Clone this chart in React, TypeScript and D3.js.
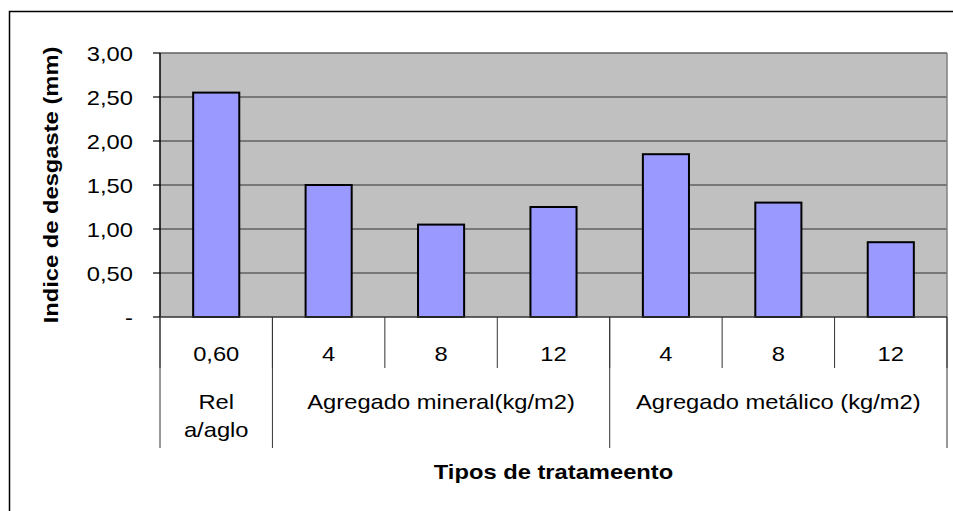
import React from "react";
import * as d3 from "d3";

const categories = ["0,60", "4", "8", "12", "4", "8", "12"];
const values = [2.55, 1.5, 1.05, 1.25, 1.85, 1.3, 0.85];
const groupLabels = [["Rel", "a/aglo"], ["Agregado mineral(kg/m2)"], ["Agregado metálico (kg/m2)"]];
const groupSizes = [1, 3, 3];
const yTicks = [0, 0.5, 1, 1.5, 2, 2.5, 3];
const yTitle = "Indice de desgaste (mm)";
const xTitle = "Tipos de tratameento";

const W = 953;
const H = 511;
const L = 160, R = 947, T = 53, B = 317;
const FONT = "'Liberation Sans', Arial, sans-serif";
const FS = 21;
const SX = 1.13;

const fmt = (d: number) => (d === 0 ? "-" : d.toFixed(2).replace(".", ","));

function T2({ x, y, text, anchor = "middle", bold = false, rotate = 0, size = FS, sx = SX }: any) {
  return (
    <text
      transform={`translate(${x},${y}) rotate(${rotate}) scale(${sx},1)`}
      textAnchor={anchor}
      fontFamily={FONT}
      fontSize={size}
      fontWeight={bold ? "bold" : "normal"}
      fill="#000"
    >
      {text}
    </text>
  );
}

export default function App() {
  const idx = categories.map((_, i) => i);
  const x = d3.scaleBand<number>().domain(idx).range([L, R]).paddingInner(0.59).paddingOuter(0.295);
  const step = x.step();
  const y = d3.scaleLinear().domain([0, 3]).range([B, T]);
  const edge = (i: number) => L + i * step; // boundary between categories

  let acc = 0;
  const groups = groupSizes.map((n, gi) => {
    const g = { start: acc, end: acc + n, labels: groupLabels[gi] };
    acc += n;
    return g;
  });

  return (
    <svg width={W} height={H} style={{ position: "absolute", left: 0, top: 0, background: "#fff" }}>
      <rect x={9.5} y={11.5} width={1000} height={600} fill="#fff" stroke="#000" strokeWidth={1.5} />
      <rect x={L} y={T} width={R - L} height={B - T} fill="#C0C0C0" />
      {yTicks.filter((t) => t > 0).map((t) => (
        <line key={"g" + t} x1={L} x2={R} y1={y(t)} y2={y(t)} stroke="#606060" strokeWidth={1.5} />
      ))}
      <line x1={R} x2={R} y1={T} y2={B} stroke="#808080" strokeWidth={1.5} />
      {values.map((v, i) => (
        <rect
          key={"b" + i}
          x={x(i)!}
          y={y(v)}
          width={x.bandwidth()}
          height={B - y(v)}
          fill="#9999FF"
          stroke="#000"
          strokeWidth={2}
        />
      ))}
      <line x1={L} x2={L} y1={T} y2={B} stroke="#000" strokeWidth={1.5} />
      <line x1={L} x2={R} y1={B} y2={B} stroke="#333" strokeWidth={1.5} />
      {yTicks.map((t) => (
        <g key={"t" + t}>
          <line x1={L - 7} x2={L} y1={y(t)} y2={y(t)} stroke="#000" strokeWidth={1.2} />
          <T2 x={133} y={y(t) + 7.5} text={fmt(t)} anchor="end" />
        </g>
      ))}
      {d3.range(categories.length + 1).map((i) => (
        <line key={"s" + i} x1={edge(i)} x2={edge(i)} y1={B} y2={368} stroke="#333" strokeWidth={1} />
      ))}
      {groups.map((g, gi) => (
        <line key={"gs" + gi} x1={edge(g.start)} x2={edge(g.start)} y1={B} y2={448} stroke="#333" strokeWidth={1} />
      ))}
      <line x1={edge(categories.length)} x2={edge(categories.length)} y1={B} y2={448} stroke="#333" strokeWidth={1} />
      {categories.map((c, i) => (
        <T2 key={"c" + i} x={x(i)! + x.bandwidth() / 2} y={361} text={c} />
      ))}
      {groups.map((g, gi) =>
        g.labels.map((lab, li) => (
          <T2 key={"gl" + gi + li} x={(edge(g.start) + edge(g.end)) / 2} y={409 + li * 28} text={lab} />
        ))
      )}
      <T2 x={(L + R) / 2} y={479} text={xTitle} bold />
      <T2 x={58} y={(T + B) / 2} text={yTitle} bold rotate={-90} />
    </svg>
  );
}
